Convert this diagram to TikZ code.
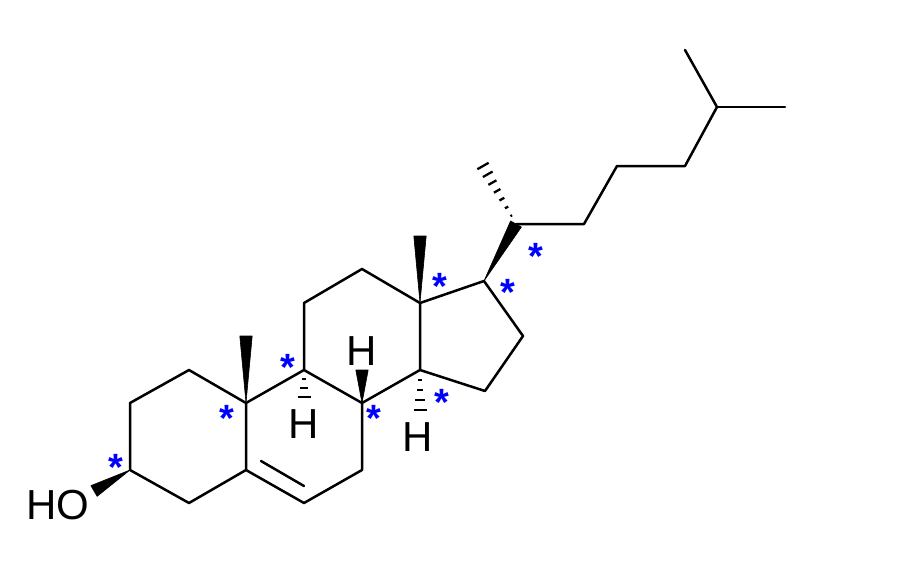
\documentclass[tikz,border=0pt]{standalone}
\usepackage{fontspec}
\setmainfont{Liberation Sans}
\usetikzlibrary{calc}
\tikzset{
  bondline/.style={line width=2.5pt,line join=round,line cap=round,black},
  hashline/.style={line width=2.3pt,black},
  atomlabel/.style={inner sep=0pt,font=\fontsize{42}{42}\selectfont,text=black},
  stereomark/.style={inner sep=0pt,anchor=base,font=\bfseries\fontsize{38}{38}\selectfont,text={rgb,255:red,0;green,0;blue,255}}
}
\newcommand{\wedgebond}[2]{\fill[black,draw=black,line width=.6pt,line join=round] (#1) -- ($(#2)!6.2pt!90:(#1)$) -- ($(#2)!6.2pt!-90:(#1)$) -- cycle;}
\newcommand{\hashbond}[3]{\foreach \k in {1,...,#3}{
  \path ($(#1)!{\k/#3}!(#2)$) coordinate (hashp);
  \draw[hashline] ($(hashp)!{6.5pt*\k/#3}!90:(#1)$) -- ($(hashp)!{6.5pt*\k/#3}!-90:(#1)$);
}}
\begin{document}
\begin{tikzpicture}[x=1pt,y=-1pt]
\useasboundingbox (0,0) rectangle (900,563);
\coordinate (c1) at (189,370);
\coordinate (c2) at (130,403);
\coordinate (c3) at (130,470);
\coordinate (c4) at (189,503);
\coordinate (c5) at (246,470);
\coordinate (c6) at (304,503);
\coordinate (c7) at (362,470);
\coordinate (c8) at (362,403);
\coordinate (c9) at (304,370);
\coordinate (c10) at (246,403);
\coordinate (c11) at (304,303);
\coordinate (c12) at (362,269);
\coordinate (c13) at (420,303);
\coordinate (c14) at (420,370);
\coordinate (c15) at (485,391);
\coordinate (c16) at (523,336);
\coordinate (c17) at (484,281);
\coordinate (c18) at (420,236);
\coordinate (c19) at (246,336);
\coordinate (c20) at (516,224);
\coordinate (c21) at (483,166);
\coordinate (c22) at (584,224);
\coordinate (c23) at (617,166);
\coordinate (c24) at (685,166);
\coordinate (c25) at (717,107);
\coordinate (c26) at (685,50);
\coordinate (c27) at (785,107);
\coordinate (db1) at (261,461);
\coordinate (db2) at (304,486);
\coordinate (hoend) at (94,491);
\coordinate (h8end) at (362,370);
\coordinate (h9end) at (304,397);
\coordinate (h14end) at (420,410);

\draw[bondline] (c10) -- (c1) -- (c2) -- (c3) -- (c4) -- (c5) -- (c6) -- (c7) -- (c8) -- (c9) -- (c10) -- (c5);
\draw[bondline] (db1) -- (db2);
\draw[bondline] (c9) -- (c11) -- (c12) -- (c13) -- (c14) -- (c8);
\draw[bondline] (c14) -- (c15) -- (c16) -- (c17) -- (c13);
\draw[bondline] (c20) -- (c22) -- (c23) -- (c24) -- (c25) -- (c26);
\draw[bondline] (c25) -- (c27);

\wedgebond{c10}{c19}
\wedgebond{c13}{c18}
\wedgebond{c17}{c20}
\wedgebond{c3}{hoend}
\wedgebond{c8}{h8end}
\hashbond{c9}{h9end}{3}
\hashbond{c14}{h14end}{4}
\hashbond{c20}{c21}{7}

\node[atomlabel] (ho) at (57.5,505) {HO};
\node[atomlabel] (h9) at (304,424) {H};
\node[atomlabel] (h8) at (362,351) {H};
\node[atomlabel] (h14) at (417.5,437) {H};

\node[stereomark] (s3) at (115.5,480) {*};
\node[stereomark] (s10) at (226.5,431) {*};
\node[stereomark] (s9) at (287.5,380) {*};
\node[stereomark] (s8) at (373.5,431) {*};
\node[stereomark] (s14) at (441.5,415) {*};
\node[stereomark] (s13) at (439.5,299) {*};
\node[stereomark] (s17) at (507.5,305) {*};
\node[stereomark] (s20) at (535.5,269) {*};
\end{tikzpicture}
\end{document}
